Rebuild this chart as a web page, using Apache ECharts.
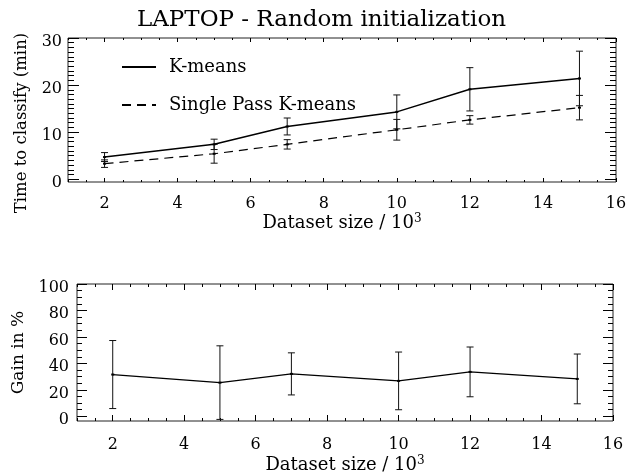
<!DOCTYPE html>
<html><head><meta charset="utf-8">
<script src="https://cdn.jsdelivr.net/npm/echarts@6/dist/echarts.min.js"></script>
<style>html,body{margin:0;padding:0;background:#fff}#c{width:643px;height:473px}</style>
</head><body><div id="c"></div>
<script>
// ---- data ----
const sizes = [2, 5, 7, 10, 12, 15];
const kmeansTime = [4.7, 7.4, 11.2, 14.3, 19.1, 21.4];
const kmeansErr = [0.95, 1.1, 1.8, 3.6, 4.6, 5.8];
const singlePassTime = [3.3, 5.4, 7.4, 10.5, 12.6, 15.2];
const singlePassErr = [0.8, 2.0, 1.0, 2.2, 0.9, 2.6];
const gain = [31.6, 25.5, 32.1, 26.8, 33.6, 28.3];
const gainErr = [25.7, 27.8, 15.9, 21.8, 18.8, 18.8];
const xTickLabels = [2, 4, 6, 8, 10, 12, 14, 16];
const timeTickLabels = [0, 10, 20, 30];
const gainTickLabels = [0, 20, 40, 60, 80, 100];

function steps(a, b, s) { const r = []; for (let v = a; v <= b + 1e-9; v += s) r.push(+v.toFixed(3)); return r; }
const xMinor = steps(1, 16, 0.5);
const timeMinor = steps(0, 30, 1);
const gainMinor = steps(0, 100, 5);

const FONT = 'DejaVu Serif';
const INK = '#000';

function ax(dim, grid, pos, range, ticks, len, labels, name, nameGap, labelMargin, namePad, nameSize) {
  const a = {
    type: 'value', gridIndex: grid, position: pos, min: range[0], max: range[1],
    axisLine: { show: false, onZero: false },
    splitLine: { show: false },
    axisTick: { show: true, inside: true, length: len, customValues: ticks, lineStyle: { color: INK, width: 1 } },
    axisLabel: labels ? { show: true, customValues: labels, margin: labelMargin, fontFamily: FONT, fontSize: 16, color: INK,
      formatter: dim === 'y' ? '{d|{value}}' : '{value}',
      rich: { d: { fontFamily: FONT, fontSize: 16, color: INK, padding: [7, 0, 0, 0] } } } : { show: false },
    silent: true
  };
  if (name) {
    a.name = name; a.nameLocation = 'middle'; a.nameGap = nameGap;
    a.nameTextStyle = { fontFamily: FONT, fontSize: nameSize || 18, color: INK, padding: namePad || 0,
      rich: { sup: { fontFamily: FONT, fontSize: 12, color: INK, verticalAlign: 'top', padding: [0, 0, 9, 0] } } };
  }
  return a;
}

const xR = [1, 16], tR = [-0.6, 30], gR = [-3.5, 100];
const xName = 'Dataset size / 10{sup|3}';
const xAxes = [
  ax('x', 0, 'bottom', xR, xTickLabels, 4, xTickLabels, xName, 31, 14),
  ax('x', 0, 'bottom', xR, xMinor, 2),
  ax('x', 0, 'top', xR, xTickLabels, 4),
  ax('x', 0, 'top', xR, xMinor, 2),
  ax('x', 1, 'bottom', xR, xTickLabels, 6, xTickLabels, xName, 34, 16),
  ax('x', 1, 'bottom', xR, xMinor, 3),
  ax('x', 1, 'top', xR, xTickLabels, 6),
  ax('x', 1, 'top', xR, xMinor, 3)
];
const yAxes = [
  ax('y', 0, 'left', tR, timeTickLabels, 11, timeTickLabels, 'Time to classify (min)', 38, 6, [0, 26, 0, 0], 16.5),
  ax('y', 0, 'left', tR, timeMinor, 6),
  ax('y', 0, 'right', tR, timeTickLabels, 11),
  ax('y', 0, 'right', tR, timeMinor, 6),
  ax('y', 1, 'left', gR, gainTickLabels, 10, gainTickLabels, 'Gain in %', 43, 8, 0, 17),
  ax('y', 1, 'right', gR, gainMinor, 5),
  ax('y', 1, 'right', gR, gainTickLabels, 10),
  ax('y', 1, 'left', gR, gainMinor, 5)
];

function errRender(params, api) {
  const x = api.value(0), m = api.value(1), lo = api.value(2), hi = api.value(3);
  const pLo = api.coord([x, lo]), pHi = api.coord([x, hi]), pM = api.coord([x, m]);
  const w = 3.5;
  const style = { stroke: '#111', lineWidth: 1 };
  return { type: 'group', children: [
    { type: 'line', shape: { x1: pLo[0], y1: pLo[1], x2: pHi[0], y2: pHi[1] }, style },
    { type: 'line', shape: { x1: pLo[0] - w, y1: pLo[1], x2: pLo[0] + w, y2: pLo[1] }, style },
    { type: 'line', shape: { x1: pHi[0] - w, y1: pHi[1], x2: pHi[0] + w, y2: pHi[1] }, style },
    { type: 'line', shape: { x1: pM[0] - 1.5, y1: pM[1], x2: pM[0] + 1.5, y2: pM[1] }, style: { stroke: '#000', lineWidth: 2 } }
  ] };
}
function errData(vals, errs) { return sizes.map((x, i) => [x, vals[i], vals[i] - errs[i], vals[i] + errs[i]]); }
function lineData(vals) { return sizes.map((x, i) => [x, vals[i]]); }

const option = {
  backgroundColor: '#fff',
  animation: false,
  title: { text: 'LAPTOP - Random initialization', left: 'center', top: 4,
    textStyle: { fontFamily: FONT, fontSize: 23, fontWeight: 'normal', color: INK } },
  legend: {
    orient: 'vertical', left: 116, top: 53, itemWidth: 34, itemHeight: 14, itemGap: 20,
    data: ['K-means', 'Single Pass K-means'], selectedMode: false,
    itemStyle: { opacity: 0 },
    textStyle: { fontFamily: FONT, fontSize: 18, color: INK, padding: [0, 0, 0, 8] }
  },
  grid: [
    { left: 68, right: 27, top: 38, height: 144, show: true, borderColor: '#222', borderWidth: 1, backgroundColor: 'transparent', outerBoundsMode: 'none' },
    { left: 77, right: 30, top: 284, height: 137, show: true, borderColor: '#222', borderWidth: 1, backgroundColor: 'transparent', outerBoundsMode: 'none' }
  ],
  xAxis: xAxes,
  yAxis: yAxes,
  series: [
    { name: 'K-means', type: 'line', xAxisIndex: 0, yAxisIndex: 0, data: lineData(kmeansTime), symbol: 'none',
      lineStyle: { color: INK, width: 1.5 }, itemStyle: { color: INK } },
    { name: 'Single Pass K-means', type: 'line', xAxisIndex: 0, yAxisIndex: 0, data: lineData(singlePassTime), symbol: 'none',
      lineStyle: { color: INK, width: 1.2, type: [9, 6] }, itemStyle: { color: INK } },
    { type: 'custom', xAxisIndex: 0, yAxisIndex: 0, data: errData(kmeansTime, kmeansErr), renderItem: errRender, encode: { x: 0, y: [1, 2, 3] }, silent: true },
    { type: 'custom', xAxisIndex: 0, yAxisIndex: 0, data: errData(singlePassTime, singlePassErr), renderItem: errRender, encode: { x: 0, y: [1, 2, 3] }, silent: true },
    { name: 'Gain', type: 'line', xAxisIndex: 4, yAxisIndex: 4, data: lineData(gain), symbol: 'none',
      lineStyle: { color: INK, width: 1.2 } },
    { type: 'custom', xAxisIndex: 4, yAxisIndex: 4, data: errData(gain, gainErr), renderItem: errRender, encode: { x: 0, y: [1, 2, 3] }, silent: true }
  ]
};
echarts.init(document.getElementById('c')).setOption(option);
</script></body></html>
